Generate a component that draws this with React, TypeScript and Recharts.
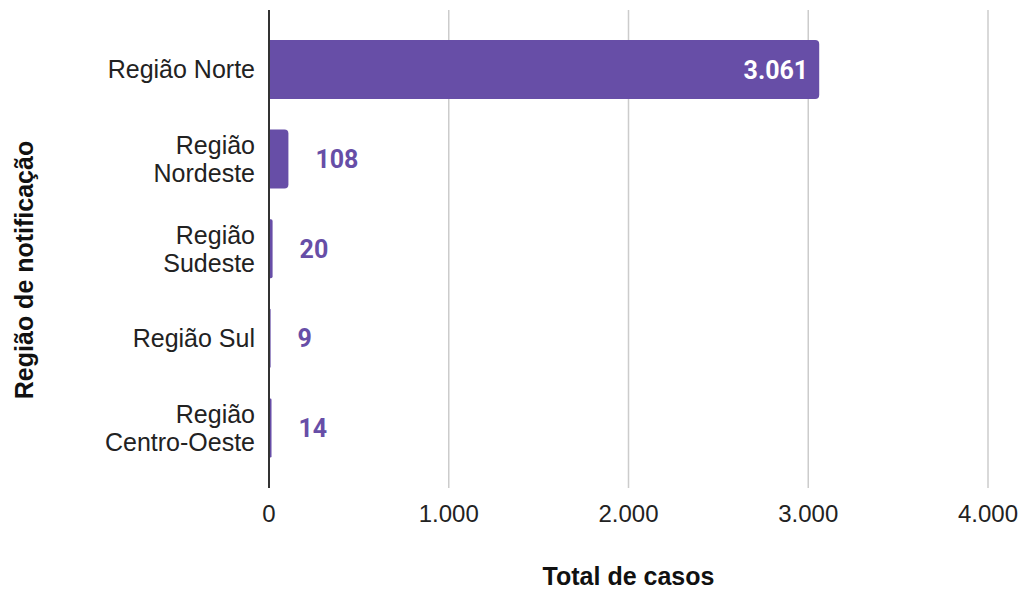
import { BarChart, Bar, XAxis, YAxis, CartesianGrid, LabelList } from "recharts";

const regions = [
  "Região Norte",
  "Região Nordeste",
  "Região Sudeste",
  "Região Sul",
  "Região Centro-Oeste",
];
const cases = [3061, 108, 20, 9, 14];
const xTicks = [0, 1000, 2000, 3000, 4000];
const singleLine = ["Região Norte", "Região Sul"];

const data = regions.map((region, i) => ({ region, cases: cases[i] }));

const PURPLE = "#674ea7";
const ARIAL = "'Liberation Sans', Arial, sans-serif";
const ROBOTO = "Roboto, 'Liberation Sans', sans-serif";

const fmt = (n: number) => String(n).replace(/\B(?=(\d{3})+(?!\d))/g, ".");

function RegionTick(props: any) {
  const { x, y, payload } = props;
  const name: string = payload.value;
  const lines = singleLine.includes(name)
    ? [name]
    : [name.slice(0, name.indexOf(" ")), name.slice(name.indexOf(" ") + 1)];
  const lh = 28;
  const start = -((lines.length - 1) * lh) / 2;
  return (
    <text
      x={x - 6}
      y={y}
      textAnchor="end"
      fill="#222"
      fontFamily={ARIAL}
      fontSize={25}
    >
      {lines.map((l, i) => (
        <tspan key={i} x={x - 6} dy={i === 0 ? start + 8.5 : lh}>
          {l}
        </tspan>
      ))}
    </text>
  );
}

function ValueLabel(props: any) {
  const { x, y, width, height, value } = props;
  const inside = value > 1000;
  return (
    <text
      x={inside ? x + width - 11 : x + width + 27}
      y={y + height / 2}
      dy={9}
      textAnchor={inside ? "end" : "start"}
      fill={inside ? "#fff" : PURPLE}
      fontFamily={ROBOTO}
      fontWeight={700}
      fontSize={25}
    >
      {fmt(value)}
    </text>
  );
}

export default function App() {
  return (
    <div style={{ position: "absolute", left: 0, top: 0, background: "#fff" }}>
      <BarChart
        width={1023}
        height={590}
        data={data}
        layout="vertical"
        margin={{ top: 10, right: 35, bottom: 72, left: 0 }}
      >
        <CartesianGrid horizontal={false} stroke="#cccccc" strokeWidth={1.5} />
        <XAxis
          type="number"
          domain={[0, 4000]}
          ticks={xTicks}
          tickFormatter={fmt}
          axisLine={false}
          tickLine={false}
          tickSize={0}
          tickMargin={17}
          tick={{ fill: "#222", fontFamily: ARIAL, fontSize: 24 }}
          label={{
            content: (p: any) => {
              const vb = p.viewBox;
              return (
                <text
                  x={vb.x + vb.width / 2}
                  y={vb.y + 97}
                  textAnchor="middle"
                  fill="#111"
                  fontFamily={ARIAL}
                  fontWeight={700}
                  fontSize={25}
                >
                  Total de casos
                </text>
              );
            },
          }}
        />
        <YAxis
          type="category"
          dataKey="region"
          width={269}
          padding={{ top: 15, bottom: 15 }}
          axisLine={{ stroke: "#333", strokeWidth: 2 }}
          tickLine={false}
          tick={<RegionTick />}
          interval={0}
          label={{
            content: (p: any) => {
              const vb = p.viewBox;
              const cx = 33;
              const cy = vb.y + vb.height / 2 + 21;
              return (
                <text
                  x={cx}
                  y={cy}
                  transform={`rotate(-90, ${cx}, ${cy})`}
                  textAnchor="middle"
                  fill="#111"
                  fontFamily={ARIAL}
                  fontWeight={700}
                  fontSize={25}
                >
                  Região de notificação
                </text>
              );
            },
          }}
        />
        <Bar
          dataKey="cases"
          fill={PURPLE}
          barSize={59}
          radius={[0, 4, 4, 0]}
          isAnimationActive={false}
        >
          <LabelList dataKey="cases" content={<ValueLabel />} />
        </Bar>
      </BarChart>
    </div>
  );
}
